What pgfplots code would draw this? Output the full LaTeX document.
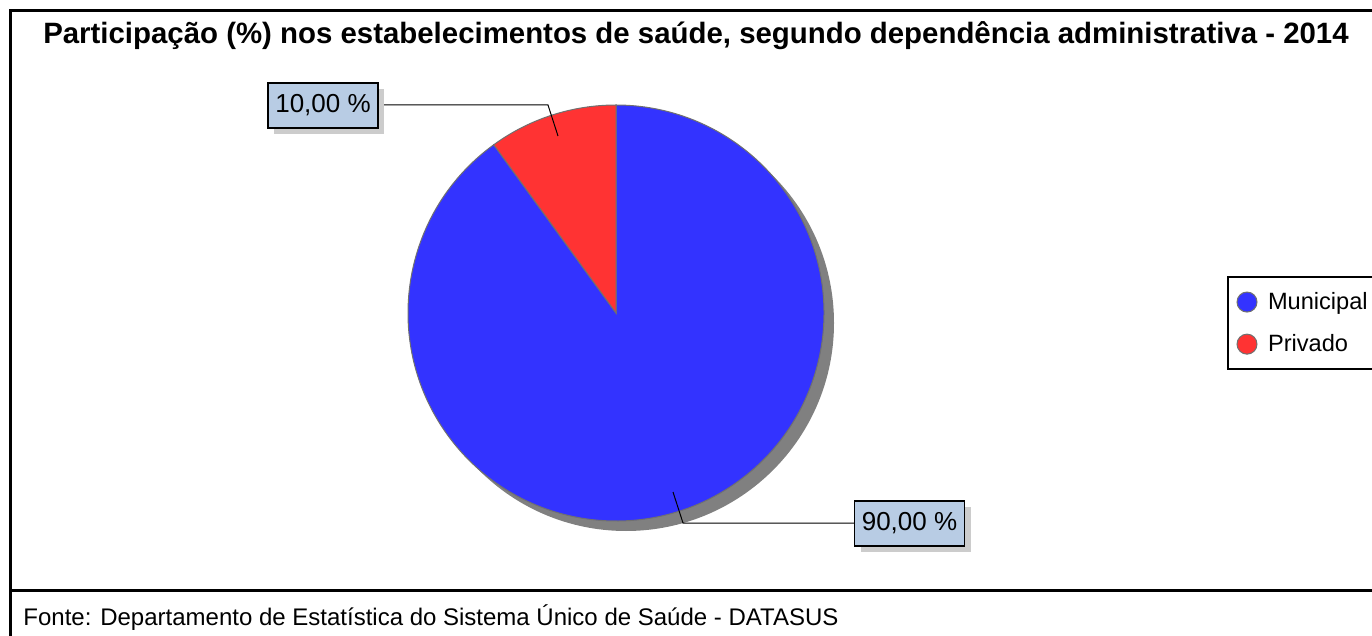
\documentclass[border=0pt]{standalone}
\usepackage{fontspec}
\setmainfont{Liberation Sans}
\usepackage{pgfplots}
\usepackage{pgfplotstable}
\pgfplotsset{compat=1.18}
\usetikzlibrary{shadows}
\definecolor{mblue}{HTML}{3333FF}
\definecolor{mred}{HTML}{FF3333}
\definecolor{lblbox}{HTML}{B8CCE4}
\definecolor{shadowgray}{HTML}{808080}
\definecolor{edgegray}{HTML}{707070}
\pgfplotstableread{
cat value
Municipal 90
Privado 10
}\piedata
\begin{document}
\begin{tikzpicture}
\pgfplotstablegetelem{0}{value}\of\piedata \let\vA\pgfplotsretval
\pgfplotstablegetelem{1}{value}\of\piedata \let\vB\pgfplotsretval
\pgfmathsetmacro\angB{90+3.6*\vB}
\pgfkeys{/pgf/number format/.cd, fixed, fixed zerofill, precision=2, use comma, assume math mode=true}
\begin{axis}[
 width=686pt, height=318pt, scale only axis,
 xmin=0,xmax=1372,ymin=0,ymax=636, y dir=reverse,
 hide axis, clip=false,
 legend style={at={(axis cs:1227,276)}, anchor=north west, draw=black, line width=1pt,
   font=\fontsize{11.8}{14}\selectfont, inner xsep=4.5pt, inner ysep=5.5pt, row sep=7pt,
   /tikz/every odd column/.style={column sep=3.5pt}},
 legend cell align=left,
]
\addlegendimage{only marks, mark=*, mark size=5pt, mark options={fill=mblue, draw=edgegray, line width=0.5pt}}
\addlegendentry{Municipal}
\addlegendimage{only marks, mark=*, mark size=5pt, mark options={fill=mred, draw=edgegray, line width=0.5pt}}
\addlegendentry{Privado}
% frame
\draw[line width=1.5pt] (axis cs:10,636) -- (axis cs:10,11) -- (axis cs:1372,11);
\draw[line width=1.5pt] (axis cs:10,590) -- (axis cs:1372,590);
% pie shadow
\fill[shadowgray] (axis cs:626,323) circle[radius=104pt];
% wedges
\filldraw[fill=mblue, draw=edgegray, line width=0.5pt] (axis cs:616,313) -- ++(\angB:104pt) arc[start angle=\angB, end angle=450, radius=104pt] -- cycle;
\filldraw[fill=mred, draw=edgegray, line width=0.5pt] (axis cs:616,313) -- ++(90:104pt) arc[start angle=90, end angle=\angB, radius=104pt] -- cycle;
% leaders
\draw[line width=0.5pt] (axis cs:378,105) -- (axis cs:548,105) -- (axis cs:558,136);
\draw[line width=0.5pt] (axis cs:855,523) -- (axis cs:683,523) -- (axis cs:673,492);
% labels
\node[draw=black, fill=lblbox, line width=0.6pt, minimum width=55pt, minimum height=22.5pt, inner sep=0pt,
  drop shadow={shadow xshift=3pt, shadow yshift=-3pt, fill=gray!40, opacity=1},
  font=\fontsize{13}{15}\selectfont] at (axis cs:323,105.5) {\pgfmathprintnumber{\vB} \%};
\node[draw=black, fill=lblbox, line width=0.6pt, minimum width=55pt, minimum height=22.5pt, inner sep=0pt,
  drop shadow={shadow xshift=3pt, shadow yshift=-3pt, fill=gray!40, opacity=1},
  font=\fontsize{13}{15}\selectfont] at (axis cs:909.5,523.5) {\pgfmathprintnumber{\vA} \%};
% title and footer
\node[font=\bfseries\fontsize{14.7}{17}\selectfont] at (axis cs:696,36) {Participação (\%) nos estabelecimentos de saúde, segundo dependência administrativa - 2014};
\node[anchor=base west, font=\fontsize{12}{14}\selectfont, inner sep=0pt] at (axis cs:23,625) {Fonte: Departamento de Estatística do Sistema Único de Saúde - DATASUS};
\end{axis}
\pgfresetboundingbox
\useasboundingbox (current axis.south west) rectangle (current axis.north east);
\end{tikzpicture}
\end{document}
